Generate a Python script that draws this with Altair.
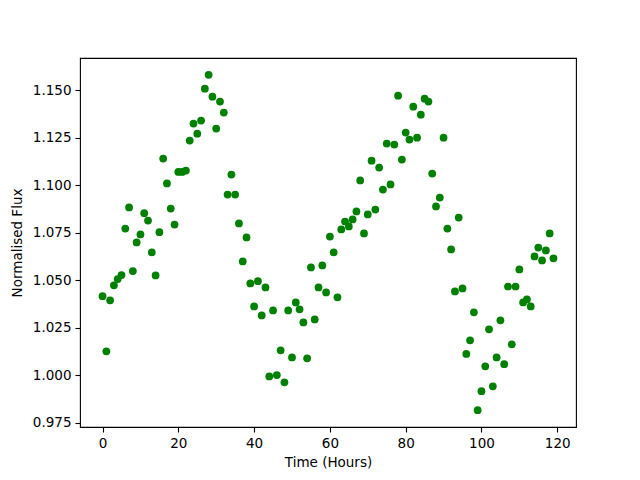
import altair as alt
import pandas as pd

hours = list(range(120))
flux = [
    1.0417, 1.0127, 1.0395, 1.0474, 1.0507, 1.0528, 1.0773, 1.0884, 1.0549, 1.0700,
    1.0742, 1.0854, 1.0815, 1.0647, 1.0526, 1.0754, 1.1141, 1.1010, 1.0878, 1.0794,
    1.1071, 1.1071, 1.1078, 1.1236, 1.1325, 1.1272, 1.1341, 1.1509, 1.1582, 1.1467,
    1.1299, 1.1441, 1.1383, 1.0952, 1.1057, 1.0952, 1.0800, 1.0600, 1.0726, 1.0484,
    1.0363, 1.0496, 1.0316, 1.0463, 0.9995, 1.0342, 1.0002, 1.0132, 0.9964, 1.0342,
    1.0095, 1.0384, 1.0348, 1.0279, 1.0090, 1.0568, 1.0295, 1.0463, 1.0579, 1.0437,
    1.0731, 1.0647, 1.0411, 1.0768, 1.0810, 1.0784, 1.0821, 1.0863, 1.1026, 1.0747,
    1.0847, 1.1130, 1.0873, 1.1094, 1.0978, 1.1220, 1.1005, 1.1215, 1.1472, 1.1136,
    1.1278, 1.1241, 1.1414, 1.1251, 1.1372, 1.1456, 1.1441, 1.1062, 1.0889, 1.0936,
    1.1251, 1.0773, 1.0663, 1.0442, 1.0831, 1.0458, 1.0113, 1.0185, 1.0332, 0.9817,
    0.9917, 1.0048, 1.0243, 0.9943, 1.0095, 1.0290, 1.0059, 1.0468, 1.0164, 1.0468,
    1.0558, 1.0384, 1.0400, 1.0363, 1.0626, 1.0673, 1.0605, 1.0658, 1.0747, 1.0616,
]
x_ticks = [0, 20, 40, 60, 80, 100, 120]
y_ticks = [0.975, 1.000, 1.025, 1.050, 1.075, 1.100, 1.125, 1.150]

df = pd.DataFrame({"Time": hours, "Flux": flux})

xmin, xmax = min(hours), max(hours)
ymin, ymax = min(flux), max(flux)
xm = (xmax - xmin) * 0.05
ym = (ymax - ymin) * 0.05

font = "DejaVu Sans"
axis_common = dict(
    grid=False, domain=False, tickColor="black", tickSize=5, tickWidth=1.1,
    labelFont=font, labelFontSize=13.5, labelColor="black", labelPadding=4,
    titleFont=font, titleFontSize=13.5, titleColor="black", titleFontWeight="normal",
)

chart = alt.Chart(df).mark_circle(size=60, color="#008000", opacity=1).encode(
    x=alt.X("Time:Q", title="Time (Hours)",
            scale=alt.Scale(domain=[xmin - xm, xmax + xm], nice=False, zero=False),
            axis=alt.Axis(values=x_ticks, format="d", titlePadding=6, **axis_common)),
    y=alt.Y("Flux:Q", title="Normalised Flux",
            scale=alt.Scale(domain=[ymin - ym, ymax + ym], nice=False, zero=False),
            axis=alt.Axis(values=y_ticks, format=".3f", titlePadding=8, **axis_common)),
).properties(
    width=496, height=369,
    autosize=alt.AutoSizeParams(type="none"),
    padding={"left": 72, "top": 50, "right": 56, "bottom": 45},
).configure_view(stroke="black", strokeWidth=1.1)

chart.save("out.html", embed_options={"renderer": "svg", "actions": False})
